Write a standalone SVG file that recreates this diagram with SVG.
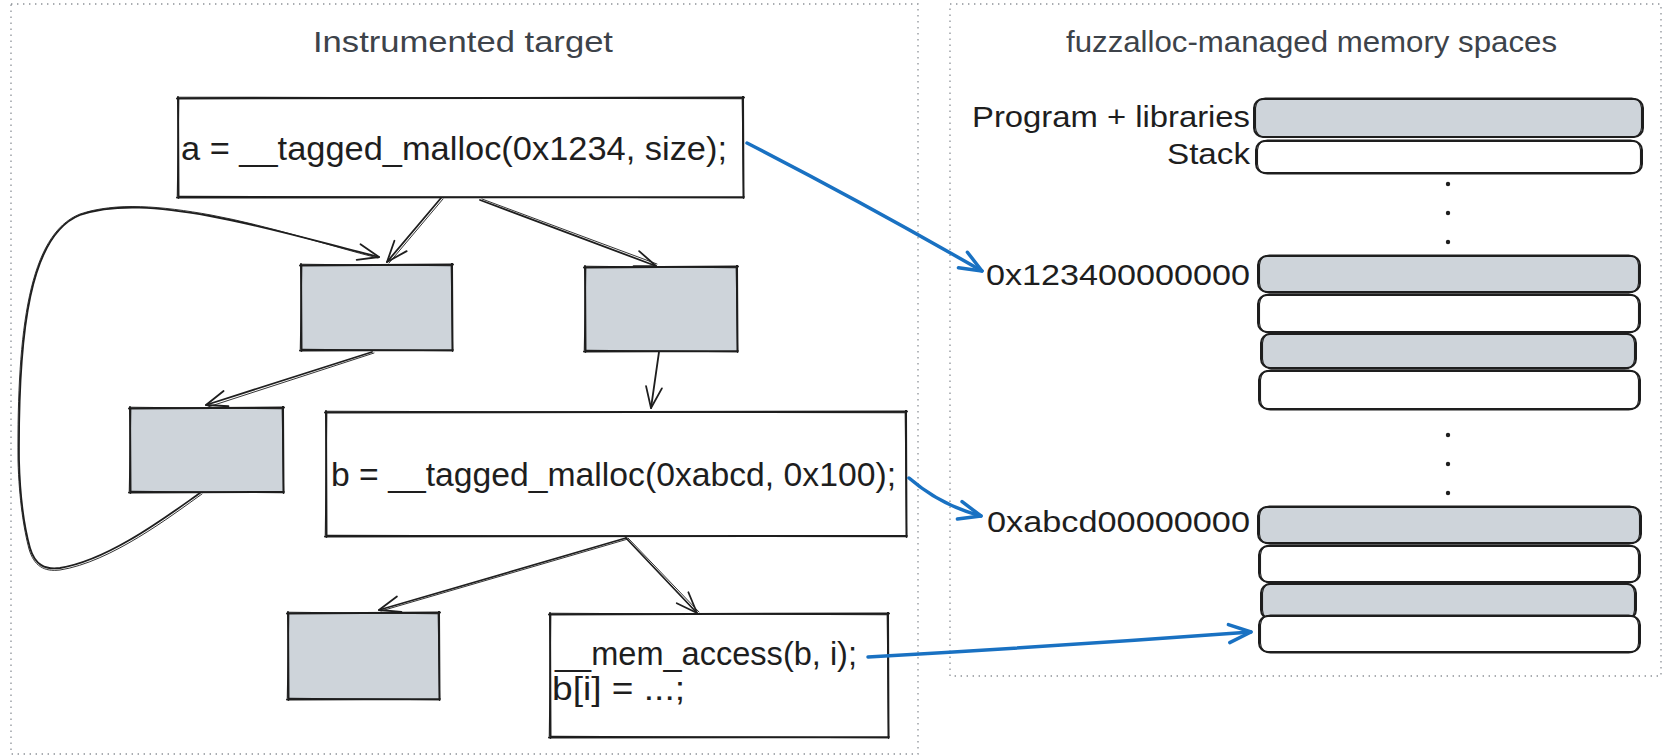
<svg xmlns="http://www.w3.org/2000/svg" width="1667" height="756" viewBox="0 0 1667 756">
  <style>
    .frame { fill: none; stroke: #8d9298; stroke-width: 1.3; stroke-dasharray: 1.4 4.6; }
    .title { font-family: "Liberation Sans", Arial, sans-serif; font-size: 30px; fill: #3d434a; }
    .code { font-family: "Liberation Sans", Arial, sans-serif; font-size: 33px; fill: #1e1e1e; }
    .label { font-family: "Liberation Sans", Arial, sans-serif; font-size: 30px; fill: #1e1e1e; }
    .fill-white { fill: #ffffff; }
    .fill-gray { fill: #ced4da; }
    .edge1 { fill: none; stroke: #1e1e1e; stroke-width: 2.0; stroke-linecap: round; }
    .edge2 { fill: none; stroke: #1e1e1e; stroke-width: 1.1; stroke-linecap: round; }
    .slot { stroke: #1e1e1e; stroke-width: 2.0; }
    .slot2 { fill: none; stroke: #1e1e1e; stroke-width: 1.1; }
    .dot { fill: #1e1e1e; }
    .link { fill: none; stroke: #1e1e1e; stroke-width: 1.8; stroke-linecap: round; marker-end: url(#head-black); }
    .link-ghost { fill: none; stroke: #1e1e1e; stroke-width: 0.9; stroke-linecap: round; }
    .ptr { fill: none; stroke: #1971c2; stroke-width: 3.5; stroke-linecap: round; marker-end: url(#head-blue); }
  </style>
  <defs>
    <marker id="head-black" markerUnits="userSpaceOnUse" viewBox="-26 -12 30 24" refX="0" refY="0" markerWidth="30" markerHeight="24" orient="auto">
      <path d="M-21 -8 L0 0 L-21 8" fill="none" stroke="#1e1e1e" stroke-width="1.8" stroke-linecap="round" stroke-linejoin="round"/>
    </marker>
    <marker id="head-blue" markerUnits="userSpaceOnUse" viewBox="-28 -13 32 26" refX="0" refY="0" markerWidth="32" markerHeight="26" orient="auto">
      <path d="M-22 -9 L0 0 L-22 9" fill="none" stroke="#1971c2" stroke-width="3.5" stroke-linecap="round" stroke-linejoin="round"/>
    </marker>
  </defs>

  <rect width="1667" height="756" fill="#ffffff"/>

  <!-- dotted frames -->
  <g id="frames">
    <rect class="frame" x="11" y="4" width="907" height="750"/>
    <rect class="frame" x="950" y="4" width="711" height="672"/>
  </g>

  <!-- frame titles -->
  <g id="titles">
    <text class="title" x="313" y="52" textLength="300" lengthAdjust="spacingAndGlyphs">Instrumented target</text>
    <text class="title" x="1066" y="52" textLength="491" lengthAdjust="spacingAndGlyphs">fuzzalloc-managed memory spaces</text>
  </g>

  <!-- control-flow blocks -->
  <g id="block-a">
    <rect class="fill-white" x="178" y="98" width="565" height="99"/>
    <path class="edge1" d="M177 98.5 L744 97.5 M743 97 L743.5 198 M744 197 L177 197.5 M178.5 198 L178 97"/>
    <path class="edge2" d="M179 97.2 L742 98.8 M742.2 99 L743.6 196 M742 197.8 L179 196.4 M177.3 196 L178.8 99"/>
    <text class="code" x="181" y="160" textLength="546" lengthAdjust="spacingAndGlyphs">a = __tagged_malloc(0x1234, size);</text>
  </g>

  <g id="block-1">
    <rect class="fill-gray" x="301" y="265" width="151" height="85"/>
    <path class="edge1" d="M300 265.5 L453 264.5 M452 264 L452.5 351 M453 350 L300 350.5 M301.5 351 L301 264"/>
    <path class="edge2" d="M302 264.2 L451 265.8 M451.2 266 L452.6 349 M451 350.8 L302 349.4 M300.3 349 L301.8 266"/>
  </g>

  <g id="block-2">
    <rect class="fill-gray" x="585" y="267" width="152" height="84"/>
    <path class="edge1" d="M584 267.5 L738 266.5 M737 266 L737.5 352 M738 351 L584 351.5 M585.5 352 L585 266"/>
    <path class="edge2" d="M586 266.2 L736 267.8 M736.2 268 L737.6 350 M736 351.8 L586 350.4 M584.3 350 L585.8 268"/>
  </g>

  <g id="block-3">
    <rect class="fill-gray" x="130" y="408" width="153" height="84"/>
    <path class="edge1" d="M129 408.5 L284 407.5 M283 407 L283.5 493 M284 492 L129 492.5 M130.5 493 L130 407"/>
    <path class="edge2" d="M131 407.2 L282 408.8 M282.2 409 L283.6 491 M282 492.8 L131 491.4 M129.3 491 L130.8 409"/>
  </g>

  <g id="block-b">
    <rect class="fill-white" x="326" y="412" width="580" height="124"/>
    <path class="edge1" d="M325 412.5 L907 411.5 M906 411 L906.5 537 M907 536 L325 536.5 M326.5 537 L326 411"/>
    <path class="edge2" d="M327 411.2 L905 412.8 M905.2 413 L906.6 535 M905 536.8 L327 535.4 M325.3 535 L326.8 413"/>
    <text class="code" x="331" y="486" textLength="565" lengthAdjust="spacingAndGlyphs">b = __tagged_malloc(0xabcd, 0x100);</text>
  </g>

  <g id="block-4">
    <rect class="fill-gray" x="288" y="613" width="151" height="86"/>
    <path class="edge1" d="M287 613.5 L440 612.5 M439 612 L439.5 700 M440 699 L287 699.5 M288.5 700 L288 612"/>
    <path class="edge2" d="M289 612.2 L438 613.8 M438.2 614 L439.6 698 M438 699.8 L289 698.4 M287.3 698 L288.8 614"/>
  </g>

  <g id="block-c">
    <rect class="fill-white" x="550" y="614" width="338" height="123"/>
    <path class="edge1" d="M549 614.5 L889 613.5 M888 613 L888.5 738 M889 737 L549 737.5 M550.5 738 L550 613"/>
    <path class="edge2" d="M551 613.2 L887 614.8 M887.2 615 L888.6 736 M887 737.8 L551 736.4 M549.3 736 L550.8 615"/>
    <text class="code" x="555" y="665" textLength="302" lengthAdjust="spacingAndGlyphs">__mem_access(b, i);</text>
    <text class="code" x="552" y="700" textLength="133" lengthAdjust="spacingAndGlyphs">b[i] = ...;</text>
  </g>

  <!-- memory spaces -->
  <g id="memory">
    <g id="space-program">
      <rect class="slot fill-gray" x="1254" y="99" width="389" height="38" rx="9"/>
      <rect class="slot2" x="1255.5" y="98" width="386" height="39.5" rx="10"/>
      <text class="label" x="972" y="127" textLength="278" lengthAdjust="spacingAndGlyphs">Program + libraries</text>
    </g>
    <g id="space-stack">
      <rect class="slot fill-white" x="1256" y="141" width="386" height="32" rx="9"/>
      <rect class="slot2" x="1257.5" y="140" width="383" height="34" rx="10"/>
      <text class="label" x="1167" y="164" textLength="83" lengthAdjust="spacingAndGlyphs">Stack</text>
    </g>
    <g id="gap-1">
      <circle class="dot" cx="1448" cy="184" r="2.2"/>
      <circle class="dot" cx="1448" cy="213" r="2.2"/>
      <circle class="dot" cx="1448" cy="242" r="2.2"/>
    </g>
    <g id="space-1234">
      <rect class="slot fill-gray" x="1258" y="256" width="382" height="36" rx="9"/>
      <rect class="slot2" x="1259.5" y="255" width="379" height="38" rx="10"/>
      <text class="label" x="986" y="285" textLength="264" lengthAdjust="spacingAndGlyphs">0x123400000000</text>
    </g>
    <g id="space-1234-b">
      <rect class="slot fill-white" x="1258" y="295" width="382" height="37" rx="9"/>
      <rect class="slot2" x="1259.5" y="294" width="379" height="39" rx="10"/>
    </g>
    <g id="space-1234-c">
      <rect class="slot fill-gray" x="1261" y="334" width="375" height="34" rx="9"/>
      <rect class="slot2" x="1262.5" y="333" width="372" height="36" rx="10"/>
    </g>
    <g id="space-1234-d">
      <rect class="slot fill-white" x="1259" y="371" width="381" height="38" rx="9"/>
      <rect class="slot2" x="1260.5" y="370" width="378" height="40" rx="10"/>
    </g>
    <g id="gap-2">
      <circle class="dot" cx="1448" cy="435" r="2.2"/>
      <circle class="dot" cx="1448" cy="464" r="2.2"/>
      <circle class="dot" cx="1448" cy="493" r="2.2"/>
    </g>
    <g id="space-abcd">
      <rect class="slot fill-gray" x="1258" y="507" width="383" height="36" rx="9"/>
      <rect class="slot2" x="1259.5" y="506" width="380" height="38" rx="10"/>
      <text class="label" x="987" y="532" textLength="263" lengthAdjust="spacingAndGlyphs">0xabcd00000000</text>
    </g>
    <g id="space-abcd-b">
      <rect class="slot fill-white" x="1259" y="546" width="381" height="36" rx="9"/>
      <rect class="slot2" x="1260.5" y="545" width="378" height="38" rx="10"/>
    </g>
    <g id="space-abcd-c">
      <rect class="slot fill-gray" x="1261" y="584" width="375" height="35" rx="9"/>
      <rect class="slot2" x="1262.5" y="583" width="372" height="37" rx="10"/>
    </g>
    <g id="space-abcd-d">
      <rect class="slot fill-white" x="1259" y="616" width="381" height="36" rx="9"/>
      <rect class="slot2" x="1260.5" y="615" width="378" height="38" rx="10"/>
    </g>
  </g>

  <!-- connectors -->
  <g id="connectors">
    <path class="link" d="M441 198 L387 262"/>
    <path class="link-ghost" d="M443 199 L389 263"/>
    <path class="link" d="M480 200 L656 266"/>
    <path class="link-ghost" d="M482 199 L657 264"/>
    <path class="link" d="M372 352 L206 405"/>
    <path class="link-ghost" d="M374 353 L208 407"/>
    <path class="link" d="M659 352 L651 408"/>
    <path class="link" d="M626 538 L379 610"/>
    <path class="link-ghost" d="M628 539 L381 611"/>
    <path class="link" d="M626 538 L697 613"/>
    <path class="link-ghost" d="M628 538 L699 612"/>
    <!-- back edge from block-3 around the left side into block-1 -->
    <path class="link" d="M200 493 C170 514, 110 560, 60 568 C45 570, 35 565, 30 548 C25 530, 20 500, 19 460 C18 330, 30 235, 80 215 C115 203, 160 207, 210 216 C270 227, 330 245, 379 257"/>
    <path class="link-ghost" d="M202 494 C171 516, 111 562, 60 570 C44 572, 34 566, 29 549 C24 530, 19 500, 18 460 C17 330, 29 234, 80 214 C116 202, 161 206, 211 215 C270 226, 330 246, 378 258"/>
    <path class="ptr" d="M747 143 Q862 202 982 271"/>
    <path class="ptr" d="M909 478 Q940 505 981 516"/>
    <path class="ptr" d="M868 657 Q1060 646 1251 632"/>
  </g>
</svg>
